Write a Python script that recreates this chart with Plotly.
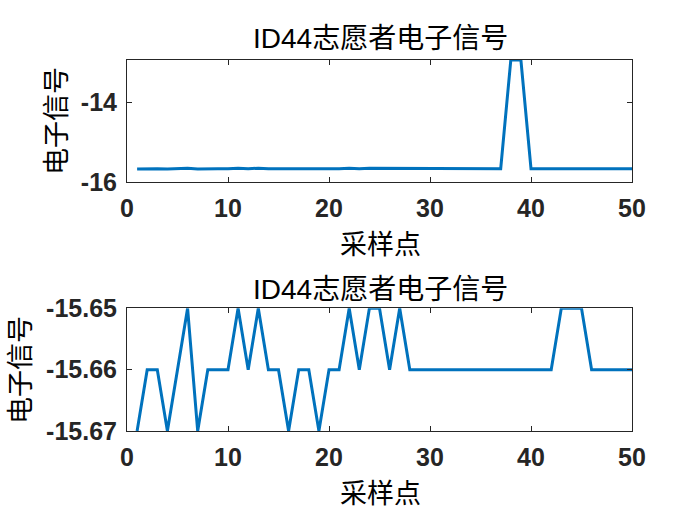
import plotly.graph_objects as go

# ---- data ----
sample_idx = list(range(1, 51))
signal_clean = [
    -15.67, -15.66, -15.66, -15.67, -15.66, -15.65, -15.67, -15.66, -15.66, -15.66,
    -15.65, -15.66, -15.65, -15.66, -15.66, -15.67, -15.66, -15.66, -15.67, -15.66,
    -15.66, -15.65, -15.66, -15.65, -15.65, -15.66, -15.65, -15.66, -15.66, -15.66,
    -15.66, -15.66, -15.66, -15.66, -15.66, -15.66, -15.66, -15.66, -15.66, -15.66,
    -15.66, -15.66, -15.65, -15.65, -15.65, -15.66, -15.66, -15.66, -15.66, -15.66,
]
signal_raw = [
    -15.67, -15.66, -15.66, -15.67, -15.66, -15.65, -15.67, -15.66, -15.66, -15.66,
    -15.65, -15.66, -15.65, -15.66, -15.66, -15.67, -15.66, -15.66, -15.67, -15.66,
    -15.66, -15.65, -15.66, -15.65, -15.65, -15.66, -15.65, -15.66, -15.66, -15.66,
    -15.66, -15.66, -15.66, -15.66, -15.66, -15.66, -15.66, -12.95, -12.95, -15.66,
    -15.66, -15.66, -15.65, -15.65, -15.65, -15.66, -15.66, -15.66, -15.66, -15.66,
]
x_ticks = [0, 10, 20, 30, 40, 50]
y1_ticks = [-16, -14]
y1_ticktext = ["-16", "-14"]
y2_ticks = [-15.67, -15.66, -15.65]
y2_ticktext = ["-15.67", "-15.66", "-15.65"]
title_text = "ID44志愿者电子信号"
xlabel = "采样点"
ylabel = "电子信号"

LINE = "#0072BD"
AX = "#262626"
TICKFONT = dict(family="Liberation Sans, Arial", size=25, color=AX, weight="bold")
CJK = "Noto Sans CJK SC"

fig = go.Figure()
fig.add_trace(go.Scatter(x=sample_idx, y=signal_raw, mode="lines",
                         line=dict(color=LINE, width=3), xaxis="x", yaxis="y"))
fig.add_trace(go.Scatter(x=sample_idx, y=signal_clean, mode="lines",
                         line=dict(color=LINE, width=3), xaxis="x2", yaxis="y2"))

axis_common = dict(showline=True, linecolor=AX, linewidth=1, mirror="ticks",
                   ticks="inside", ticklen=5, tickcolor=AX, showgrid=False,
                   zeroline=False, tickfont=TICKFONT)

fig.update_layout(
    width=700, height=525,
    margin=dict(l=127, r=68, t=60, b=94),
    paper_bgcolor="white", plot_bgcolor="white",
    showlegend=False,
    xaxis=dict(domain=[0, 1], range=[0, 50], tickvals=x_ticks, anchor="y",
               ticklabelstandoff=4, **axis_common),
    yaxis=dict(domain=[0.6703, 1.0], range=[-16, -12.95], tickvals=y1_ticks,
               ticktext=y1_ticktext, anchor="x", ticklabelstandoff=4, **axis_common),
    xaxis2=dict(domain=[0, 1], range=[0, 50], tickvals=x_ticks, anchor="y2",
                ticklabelstandoff=4, **axis_common),
    yaxis2=dict(domain=[0, 0.3307], range=[-15.67, -15.65], tickvals=y2_ticks,
                ticktext=y2_ticktext, anchor="x2", ticklabelstandoff=4, **axis_common),
)

ann = []
# titles
ann.append(dict(text=title_text, x=380, y=38, size=28))
ann.append(dict(text=title_text, x=380, y=289, size=28))
# x labels
ann.append(dict(text=xlabel, x=380, y=245, size=27))
ann.append(dict(text=xlabel, x=380, y=494, size=27))
# y labels
ann.append(dict(text=ylabel, x=57, y=121, size=27, angle=-90))
ann.append(dict(text=ylabel, x=21, y=370, size=27, angle=-90))

W, H = 700, 525
pw, ph = W - 127 - 68, H - 60 - 94
for a in ann:
    fig.add_annotation(
        text=a["text"],
        x=(a["x"] - 127) / pw, y=1 - (a["y"] - 60) / ph,
        xref="paper", yref="paper", xanchor="center", yanchor="middle",
        showarrow=False, textangle=a.get("angle", 0),
        font=dict(family="Liberation Sans, " + CJK, size=a.get("size", 26), color="#000000"),
    )

fig.write_html("out.html")
